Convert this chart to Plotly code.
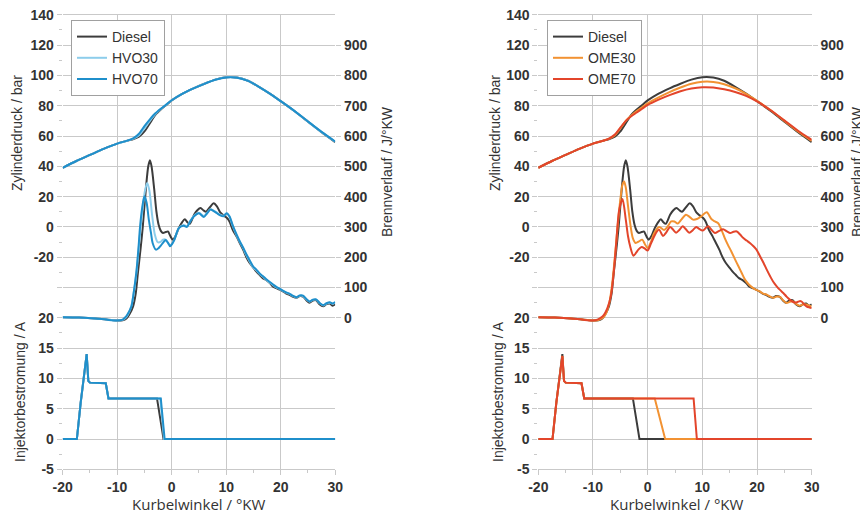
import plotly.graph_objects as go

# ---------------- data ----------------
# cylinder pressure (bar) vs crank angle
p_kw = [-20, -17.5, -15, -12.5, -10, -8, -7, -6, -5, -4, -3, -2, -1, 0, 2, 4, 6, 8, 10, 12, 14, 16, 18, 20, 22.5, 25, 27.5, 30]
p_diesel = [39, 43.5, 47.5, 51.5, 55, 57, 58, 59.5, 63, 68.5, 74, 77.5, 80.5, 83.5, 88, 91.5, 94.5, 97.2, 98.8, 98.6, 96.5, 92.5, 88, 83, 76.5, 69.5, 62.5, 56]
p_hvo30 = [39, 43.5, 47.5, 51.5, 55, 57, 58.3, 60.5, 65, 70, 74.5, 77.8, 80.7, 83.6, 88, 91.5, 94.5, 97.2, 98.8, 98.6, 96.5, 92.5, 88, 83, 76.5, 69.5, 62.5, 56.2]
p_hvo70 = [39, 43.5, 47.5, 51.5, 55, 57.1, 58.6, 61.5, 66.5, 71, 75, 78, 80.8, 83.6, 88, 91.4, 94.4, 97.1, 98.7, 98.5, 96.4, 92.5, 88, 83, 76.6, 69.6, 62.7, 56.4]
p_ome30 = [39, 43.5, 47.5, 51.5, 55, 57, 58.3, 60.5, 65, 70, 73.5, 76.5, 79, 81.5, 85.5, 89, 92, 94.5, 95.8, 95.7, 94.2, 91.5, 87.8, 83.2, 77, 70, 63, 56.8]
p_ome70 = [39, 43.5, 47.5, 51.5, 55, 57, 58.5, 61, 65.5, 70, 73, 75.5, 78, 80.5, 84, 87, 89.5, 91.3, 92.2, 92, 90.8, 89, 86.5, 82.8, 77, 70.3, 63.5, 57.5]

# heat release rate (J/°KW)
q_diesel_kw = [-20, -17, -14, -12, -10, -9, -8.3, -7.8, -7.1, -6.6, -6.2, -5.7, -5.3, -4.7, -4.3, -4.0, -3.7, -3.2, -2.8, -2.4, -2.0, -1.6, -1.1, -0.7, -0.2, 0.2, 0.7, 1.3, 1.9, 2.4, 2.9, 3.3, 4.1, 4.7, 5.3, 5.8, 6.3, 7.0, 7.7, 8.3, 8.9, 9.5, 10.1, 10.6, 11.2, 11.9, 12.4, 13.1, 13.7, 14.3, 15.0, 15.5, 16.1, 16.7, 17.3, 18.0, 18.6, 19.2, 19.8, 20.4, 21.0, 21.6, 22.2, 22.9, 23.5, 24.1, 24.7, 25.3, 25.9, 26.5, 27.1, 27.8, 28.4, 29.0, 29.5, 30]
q_diesel = [2, 1, -2, -6, -9, -8, -2, 10, 37, 80, 148, 230, 302, 434, 500, 520, 500, 423, 350, 307, 287, 280, 283, 285, 268, 258, 270, 296, 315, 325, 315, 310, 340, 355, 362, 355, 350, 365, 378, 368, 348, 338, 330, 318, 290, 268, 250, 225, 200, 181, 165, 153, 142, 131, 125, 115, 103, 98, 93, 87, 80, 76, 70, 66, 72, 70, 58, 50, 57, 58, 45, 38, 45, 47, 40, 45]

q_hvo30_kw = [-20, -17, -14, -12, -10, -9, -8.5, -8.0, -7.4, -6.9, -6.4, -5.9, -5.4, -4.9, -4.5, -4.1, -3.6, -3.1, -2.6, -2.1, -1.6, -1.1, -0.6, -0.1, 0.5, 1.3, 2.2, 2.8, 3.4, 4.1, 5.0, 5.9, 6.5, 7.1, 7.7, 8.3, 8.9, 9.5, 10.1, 10.6, 11.2, 11.9, 12.5, 13.1, 13.7, 14.3, 15.0, 15.5, 16.1, 16.7, 17.3, 18.0, 18.6, 19.2, 19.8, 20.4, 21.0, 21.6, 22.2, 22.9, 23.5, 24.1, 24.7, 25.3, 25.9, 26.5, 27.1, 27.8, 28.4, 29.0, 29.5, 30]
q_hvo30 = [2, 1, -2, -6, -9, -7, -1, 12, 40, 90, 160, 260, 350, 420, 445, 420, 340, 275, 250, 250, 258, 258, 245, 240, 258, 296, 306, 302, 320, 337, 347, 336, 347, 358, 354, 347, 340, 337, 345, 333, 303, 272, 250, 230, 206, 186, 165, 157, 145, 136, 126, 116, 108, 100, 95, 89, 83, 79, 72, 67, 73, 72, 61, 53, 59, 60, 49, 41, 47, 50, 46, 50]

q_hvo70_kw = [-20, -17, -14, -12, -10, -9, -8.6, -8.1, -7.4, -7.0, -6.5, -6.1, -5.8, -5.4, -5.0, -4.6, -4.2, -3.8, -3.5, -2.9, -2.4, -2.0, -1.5, -1.1, -0.7, -0.3, 0.1, 0.5, 1.3, 2.2, 2.8, 3.4, 4.1, 5.0, 5.9, 6.5, 7.1, 7.7, 8.3, 8.9, 9.5, 10.1, 10.6, 11.2, 11.9, 12.5, 13.1, 13.7, 14.3, 15.0, 15.5, 16.1, 16.7, 17.3, 18.0, 18.6, 19.2, 19.8, 20.4, 21.0, 21.6, 22.2, 22.9, 23.5, 24.1, 24.7, 25.3, 25.9, 26.5, 27.1, 27.8, 28.4, 29.0, 29.5, 30]
q_hvo70 = [2, 1, -2, -6, -9, -6, 0, 12, 37, 80, 148, 230, 302, 365, 401, 380, 324, 280, 247, 225, 230, 238, 250, 257, 248, 236, 245, 258, 296, 304, 300, 318, 335, 345, 333, 345, 357, 352, 345, 338, 335, 345, 335, 305, 275, 252, 232, 210, 190, 168, 160, 147, 138, 128, 118, 110, 102, 96, 90, 84, 80, 73, 68, 74, 73, 62, 54, 60, 61, 50, 42, 48, 51, 47, 52]

q_ome30_kw = [-20, -17, -14, -12, -10, -9, -8.2, -7.6, -7.0, -6.5, -6.0, -5.5, -5.0, -4.6, -4.3, -4.0, -3.6, -3.1, -2.7, -2.2, -1.6, -1.0, -0.5, 0.0, 0.6, 1.2, 2.1, 3.0, 3.6, 4.3, 4.9, 5.5, 6.2, 7.0, 7.6, 8.3, 9.0, 9.8, 10.8, 11.7, 12.3, 12.9, 13.5, 14.1, 14.7, 15.3, 16.0, 16.6, 17.2, 17.8, 18.5, 19.3, 19.9, 20.5, 21.1, 21.7, 22.4, 23.0, 23.6, 24.2, 24.8, 25.4, 26.0, 26.6, 27.2, 27.8, 28.4, 29.0, 29.5, 30]
q_ome30 = [2, 1, -2, -6, -9, -7, 0, 15, 50, 110, 200, 300, 390, 440, 450, 430, 370, 300, 262, 247, 252, 258, 243, 230, 250, 280, 300, 290, 300, 318, 318, 311, 325, 340, 334, 324, 326, 335, 348, 325, 318, 312, 290, 263, 240, 219, 192, 170, 148, 126, 110, 98, 92, 87, 80, 77, 70, 66, 70, 69, 57, 49, 53, 54, 45, 40, 44, 44, 40, 38]

q_ome70_kw = [-20, -17, -14, -12, -10, -9.2, -8.6, -8.0, -7.4, -6.7, -6.2, -5.8, -5.2, -4.6, -4.0, -3.6, -3.2, -2.6, -2.1, -1.7, -1.1, -0.5, 0.0, 0.6, 1.2, 1.7, 2.1, 2.8, 3.4, 4.1, 4.6, 5.2, 5.8, 6.4, 7.0, 7.6, 8.3, 8.9, 9.3, 10.1, 10.6, 11.1, 11.7, 12.3, 13.0, 13.8, 14.5, 15.1, 15.7, 16.3, 16.9, 17.5, 18.1, 18.7, 19.3, 19.9, 20.5, 21.2, 21.8, 22.4, 23.0, 23.6, 24.2, 24.8, 25.4, 26.0, 26.6, 27.3, 27.8, 28.2, 28.7, 29.1, 29.6, 30]
q_ome70 = [2, 1, -2, -6, -9, -6, 0, 10, 30, 75, 150, 236, 357, 392, 324, 270, 236, 205, 215, 225, 234, 228, 222, 245, 269, 285, 291, 270, 282, 300, 292, 281, 290, 302, 292, 281, 290, 300, 295, 288, 296, 302, 290, 280, 286, 292, 285, 280, 284, 285, 275, 263, 255, 247, 237, 225, 205, 181, 158, 137, 118, 104, 92, 82, 70, 60, 52, 51, 55, 53, 43, 37, 34, 32]

# injector current (A)
i_diesel_kw = [-20, -17.4, -16.7, -15.6, -15.3, -15.0, -12.1, -11.6, -2.7, -1.5, 30]
i_diesel = [0, 0, 6, 14, 9.6, 9.3, 9.2, 6.7, 6.7, 0, 0]
i_hvo30_kw = [-20, -17.4, -16.7, -15.6, -15.3, -15.0, -12.1, -11.6, -2.1, -1.4, 30]
i_hvo30 = [0, 0, 6, 14, 9.6, 9.3, 9.2, 6.7, 6.7, 0, 0]
i_hvo70_kw = [-20, -17.4, -16.7, -15.6, -15.3, -15.0, -12.1, -11.6, -2.0, -1.3, 30]
i_hvo70 = [0, 0, 6, 14, 9.6, 9.3, 9.2, 6.7, 6.7, 0, 0]
i_ome30_kw = [-20, -17.4, -16.7, -15.6, -15.3, -15.0, -12.1, -11.6, 1.3, 3.2, 30]
i_ome30 = [0, 0, 6, 13.7, 9.6, 9.3, 9.2, 6.7, 6.7, 0, 0]
i_ome70_kw = [-20, -17.4, -16.7, -15.6, -15.3, -15.0, -12.1, -11.6, 8.4, 9.0, 30]
i_ome70 = [0, 0, 6, 13.7, 9.6, 9.3, 9.2, 6.7, 6.7, 0, 0]

x_ticks = [-20, -10, 0, 10, 20, 30]
p_ticks = [-40, -20, 0, 20, 40, 60, 80, 100, 120, 140]
p_ticklabels = ["", "-20", "0", "20", "40", "60", "80", "100", "120", "140"]
q_ticks = [0, 100, 200, 300, 400, 500, 600, 700, 800, 900]
i_ticks = [-5, 0, 5, 10, 15, 20]

# ---------------- styling ----------------
C_DIESEL = "#3c3c3c"
C_HVO30 = "#8dcdeb"
C_HVO70 = "#1f8fcb"
C_OME30 = "#f29232"
C_OME70 = "#e3452b"
GRID = "#c9c9c9"
TXT = "#333333"
TICKFONT = dict(family="Liberation Sans", size=14, color=TXT)
# the page places the figure 8 px from the top-left corner of the window
OFF = 8
W = 868 - OFF
H = 517 - OFF

def fx(px):
    return (px - OFF) / W

def fy(py):
    return 1 - (py - OFF) / H

def bold(labels):
    return ["<b>%s</b>" % t if t != "" else "" for t in labels]

fig = go.Figure()

panels = [
    dict(xa="x", yp="y", yq="y2", yi="y3", legend="legend",
         series=[("Diesel", C_DIESEL, p_diesel, q_diesel_kw, q_diesel, i_diesel_kw, i_diesel),
                 ("HVO30", C_HVO30, p_hvo30, q_hvo30_kw, q_hvo30, i_hvo30_kw, i_hvo30),
                 ("HVO70", C_HVO70, p_hvo70, q_hvo70_kw, q_hvo70, i_hvo70_kw, i_hvo70)]),
    dict(xa="x2", yp="y4", yq="y5", yi="y6", legend="legend2",
         series=[("Diesel", C_DIESEL, p_diesel, q_diesel_kw, q_diesel, i_diesel_kw, i_diesel),
                 ("OME30", C_OME30, p_ome30, q_ome30_kw, q_ome30, i_ome30_kw, i_ome30),
                 ("OME70", C_OME70, p_ome70, q_ome70_kw, q_ome70, i_ome70_kw, i_ome70)]),
]

for pn in panels:
    for name, col, pv, qk, qv, ik, iv in pn["series"]:
        line = dict(color=col, width=2)
        fig.add_trace(go.Scatter(x=p_kw, y=pv, mode="lines", name=name, line=line,
                                 xaxis=pn["xa"], yaxis=pn["yp"], legend=pn["legend"],
                                 line_shape="spline", line_smoothing=0.6, hoverinfo="skip"))
        fig.add_trace(go.Scatter(x=qk, y=qv, mode="lines", name=name, line=line, showlegend=False,
                                 xaxis=pn["xa"], yaxis=pn["yq"], line_shape="spline",
                                 line_smoothing=0.8, hoverinfo="skip"))
        fig.add_trace(go.Scatter(x=ik, y=iv, mode="lines", name=name, line=line, showlegend=False,
                                 xaxis=pn["xa"], yaxis=pn["yi"], hoverinfo="skip"))

xdom = [[fx(62.7), fx(335.2)], [fx(538.3), fx(811.7)]]
ydom = [fy(469.3), fy(14.8)]

common_ax = dict(showgrid=True, gridcolor=GRID, gridwidth=1.3, zeroline=False,
                 ticks="outside", ticklen=5, tickcolor=GRID, tickwidth=1.3,
                 tickfont=TICKFONT, automargin=False, ticklabeloverflow="allow")

def xaxis_def(dom, anchor):
    return dict(domain=dom, anchor=anchor, range=[-20, 30], tickmode="array",
                tickvals=x_ticks, ticktext=bold([str(v) for v in x_ticks]),
                showline=True, mirror=True, linecolor=GRID, linewidth=1.3,
                minor=dict(tickmode="array", tickvals=[-15, -5, 5, 15, 25], ticks="outside",
                           ticklen=3, tickcolor=GRID, showgrid=False),
                **common_ax)

def p_axis(anchor):
    return dict(domain=ydom, anchor=anchor, range=[-160, 140.01], tickmode="array",
                tickvals=p_ticks, ticktext=bold(p_ticklabels),
                minor=dict(tickmode="array", tickvals=list(range(-150, 140, 20)),
                           ticks="outside", ticklen=3, tickcolor=GRID, showgrid=False),
                **common_ax)

def q_axis(anchor, over):
    d = dict(common_ax)
    d["showgrid"] = False
    return dict(overlaying=over, anchor=anchor, side="right", range=[-500, 1000],
                tickmode="array", tickvals=q_ticks, ticktext=bold([str(v) for v in q_ticks]),
                **d)

def i_axis(anchor, over):
    return dict(overlaying=over, anchor=anchor, side="left", range=[-5, 70],
                tickmode="array", tickvals=i_ticks, ticktext=bold([str(v) for v in i_ticks]),
                **common_ax)

LEGFONT = dict(family="Liberation Sans, Arial", size=14, color=TXT)

fig.update_layout(
    width=W, height=H,
    margin=dict(l=0, r=0, t=0, b=0),
    paper_bgcolor="white", plot_bgcolor="white",
    font=dict(family="Liberation Sans, Arial", color=TXT),
    xaxis=xaxis_def(xdom[0], "y"),
    xaxis2=xaxis_def(xdom[1], "y4"),
    yaxis=p_axis("x"),
    yaxis2=q_axis("x", "y"),
    yaxis3=i_axis("x", "y"),
    yaxis4=p_axis("x2"),
    yaxis5=q_axis("x2", "y4"),
    yaxis6=i_axis("x2", "y4"),
    legend=dict(x=fx(71), y=fy(20), xanchor="left", yanchor="top",
                bgcolor="white", bordercolor="#a0a0a0", borderwidth=1,
                font=LEGFONT, tracegroupgap=0, itemwidth=30),
    legend2=dict(x=fx(547), y=fy(20), xanchor="left", yanchor="top",
                 bgcolor="white", bordercolor="#a0a0a0", borderwidth=1,
                 font=LEGFONT, tracegroupgap=0, itemwidth=30),
    showlegend=True,
)

TITLEFONT = dict(family="Liberation Sans, Arial", size=14, color=TXT)
XTITLEFONT = dict(family="Open Sans, Liberation Sans", size=15, color=TXT)

def ann(x, y, text, angle=0, font=TITLEFONT):
    fig.add_annotation(x=fx(x), y=fy(y), xref="paper", yref="paper", text=text,
                       showarrow=False, textangle=angle, font=font,
                       xanchor="center", yanchor="middle")

ann(17, 133, "Zylinderdruck / bar", -90)
ann(20, 392, "Injektorbestromung / A", -90)
ann(387, 172, "Brennverlauf / J/°KW", -90)
ann(199, 504, "Kurbelwinkel / °KW", 0, XTITLEFONT)

ann(495, 133, "Zylinderdruck / bar", -90)
ann(498, 392, "Injektorbestromung / A", -90)
ann(857, 172, "Brennverlauf / J/°KW", -90)
ann(677, 504, "Kurbelwinkel / °KW", 0, XTITLEFONT)

fig.write_html("out.html")
